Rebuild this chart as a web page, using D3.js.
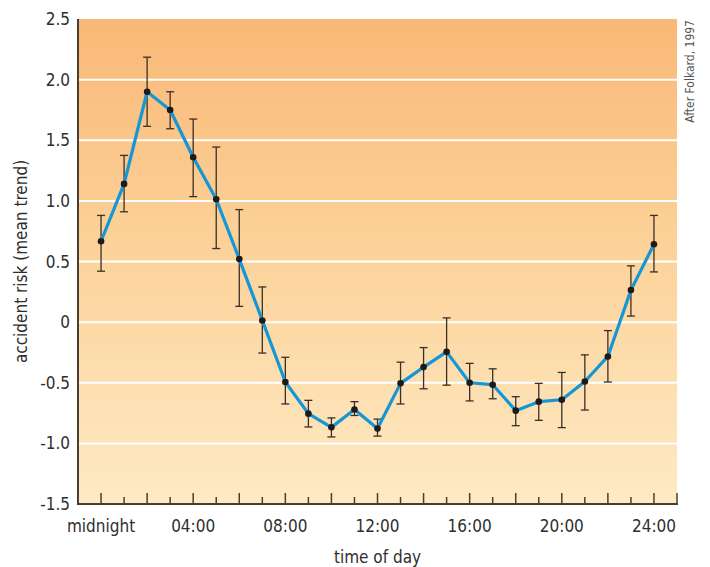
<!DOCTYPE html>
<html>
<head>
<meta charset="utf-8">
<script src="https://cdn.jsdelivr.net/npm/d3@7"></script>
<style>
body { margin: 0; background: #fff; }
text { font-family: "DejaVu Sans Condensed", "DejaVu Sans", sans-serif; font-stretch: condensed; fill: #2e2e2e; }
</style>
</head>
<body>
<svg width="710" height="567"></svg>
<script>
// hour of day, mean trend and error bar ends
var hours = [0,1,2,3,4,5,6,7,8,9,10,11,12,13,14,15,16,17,18,19,20,21,22,23,24]
var risk  = [0.667,1.14,1.90,1.75,1.36,1.013,0.52,0.014,-0.494,-0.755,-0.868,-0.72,-0.878,-0.505,-0.371,-0.245,-0.50,-0.516,-0.73,-0.656,-0.64,-0.49,-0.283,0.264,0.642]
var upper = [0.88,1.375,2.185,1.90,1.675,1.444,0.928,0.29,-0.29,-0.645,-0.79,-0.656,-0.80,-0.33,-0.21,0.035,-0.34,-0.385,-0.615,-0.505,-0.415,-0.27,-0.07,0.464,0.88]
var lower = [0.42,0.91,1.615,1.595,1.035,0.607,0.13,-0.255,-0.675,-0.865,-0.947,-0.77,-0.94,-0.675,-0.55,-0.52,-0.65,-0.632,-0.854,-0.81,-0.87,-0.725,-0.494,0.05,0.414]
var yTicks = [2.5,2.0,1.5,1.0,0.5,0,-0.5,-1.0,-1.5]
var xLabelHours = [0,4,8,12,16,20,24]
var xLabels = ["midnight","04:00","08:00","12:00","16:00","20:00","24:00"]

var data = hours.map(function(h,i){ return {h:h, v:risk[i], hi:upper[i], lo:lower[i]} })

var pLeft = 78, pRight = 677, pTop = 19, pBottom = 504
var xs = d3.scaleLinear().domain([-1,25]).range([pLeft,pRight])
var ys = d3.scaleLinear().domain([-1.5,2.5]).range([pBottom,pTop])

var svg = d3.select("svg")

var grad = svg.append("defs").append("linearGradient")
    .attr("id","bg").attr("x1",0).attr("x2",0).attr("y1",0).attr("y2",1)
grad.append("stop").attr("offset","0%").attr("stop-color","#f9b876")
grad.append("stop").attr("offset","45%").attr("stop-color","#fcd198")
grad.append("stop").attr("offset","100%").attr("stop-color","#feeac4")

svg.append("rect").attr("x",pLeft).attr("y",pTop)
    .attr("width",pRight-pLeft).attr("height",pBottom-pTop).attr("fill","url(#bg)")

// grid
svg.append("g").selectAll("line").data(yTicks.filter(function(d){return d > -1.5 && d < 2.5})).enter().append("line")
    .attr("x1",pLeft).attr("x2",pRight)
    .attr("y1",function(d){return ys(d)}).attr("y2",function(d){return ys(d)})
    .attr("stroke","#fff").attr("stroke-width",2)

// y labels
svg.append("g").selectAll("text").data(yTicks).enter().append("text")
    .attr("x",pLeft-8).attr("y",function(d){return ys(d)+6})
    .attr("text-anchor","end").style("font-size","17px")
    .text(function(d){return d === 0 ? "0" : d3.format(".1f")(d).replace("−","-")})

// x axis ticks pointing up
var tickHours = d3.range(0,26)
svg.append("g").selectAll("line").data(tickHours).enter().append("line")
    .attr("x1",function(d){return xs(d)}).attr("x2",function(d){return xs(d)})
    .attr("y1",pBottom).attr("y2",function(d){return pBottom - (d % 2 === 0 || d === 25 ? 11 : 7)})
    .attr("stroke","#4a3e33").attr("stroke-width",1.5)

svg.append("line").attr("x1",pLeft).attr("x2",pRight+1).attr("y1",pBottom).attr("y2",pBottom)
    .attr("stroke","#4a3e33").attr("stroke-width",2)
svg.append("line").attr("x1",pLeft).attr("x2",pLeft).attr("y1",pTop).attr("y2",pBottom+1)
    .attr("stroke","#4a3e33").attr("stroke-width",2)

svg.append("g").selectAll("text").data(xLabelHours).enter().append("text")
    .attr("x",function(d){return xs(d)}).attr("y",pBottom+28)
    .attr("text-anchor","middle").style("font-size","17px")
    .text(function(d,i){return xLabels[i]})

svg.append("text").attr("x",xs(12)).attr("y",563).attr("text-anchor","middle")
    .style("font-size","17px").text("time of day")
svg.append("text").attr("transform","translate(27,"+((pTop+pBottom)/2)+") rotate(-90)")
    .attr("text-anchor","middle").style("font-size","17px").text("accident risk (mean trend)")
svg.append("text").attr("transform","translate(694,20) rotate(-90)")
    .attr("text-anchor","end").style("font-size","12px").style("fill","#555").text("After Folkard, 1997")

// error bars
var eb = svg.append("g").attr("stroke","#3a2f26").attr("stroke-width",1.3)
eb.selectAll(".v").data(data).enter().append("line")
    .attr("x1",function(d){return xs(d.h)}).attr("x2",function(d){return xs(d.h)})
    .attr("y1",function(d){return ys(d.hi)}).attr("y2",function(d){return ys(d.lo)})
eb.selectAll(".t").data(data).enter().append("line")
    .attr("x1",function(d){return xs(d.h)-4}).attr("x2",function(d){return xs(d.h)+4})
    .attr("y1",function(d){return ys(d.hi)}).attr("y2",function(d){return ys(d.hi)})
eb.selectAll(".b").data(data).enter().append("line")
    .attr("x1",function(d){return xs(d.h)-4}).attr("x2",function(d){return xs(d.h)+4})
    .attr("y1",function(d){return ys(d.lo)}).attr("y2",function(d){return ys(d.lo)})

svg.append("path").datum(data)
    .attr("d",d3.line().x(function(d){return xs(d.h)}).y(function(d){return ys(d.v)}))
    .attr("fill","none").attr("stroke","#1596d6").attr("stroke-width",3.2).attr("stroke-linejoin","round")

svg.append("g").selectAll("circle").data(data).enter().append("circle")
    .attr("cx",function(d){return xs(d.h)}).attr("cy",function(d){return ys(d.v)})
    .attr("r",3.3).attr("fill","#1f1a17")
</script>
</body>
</html>
